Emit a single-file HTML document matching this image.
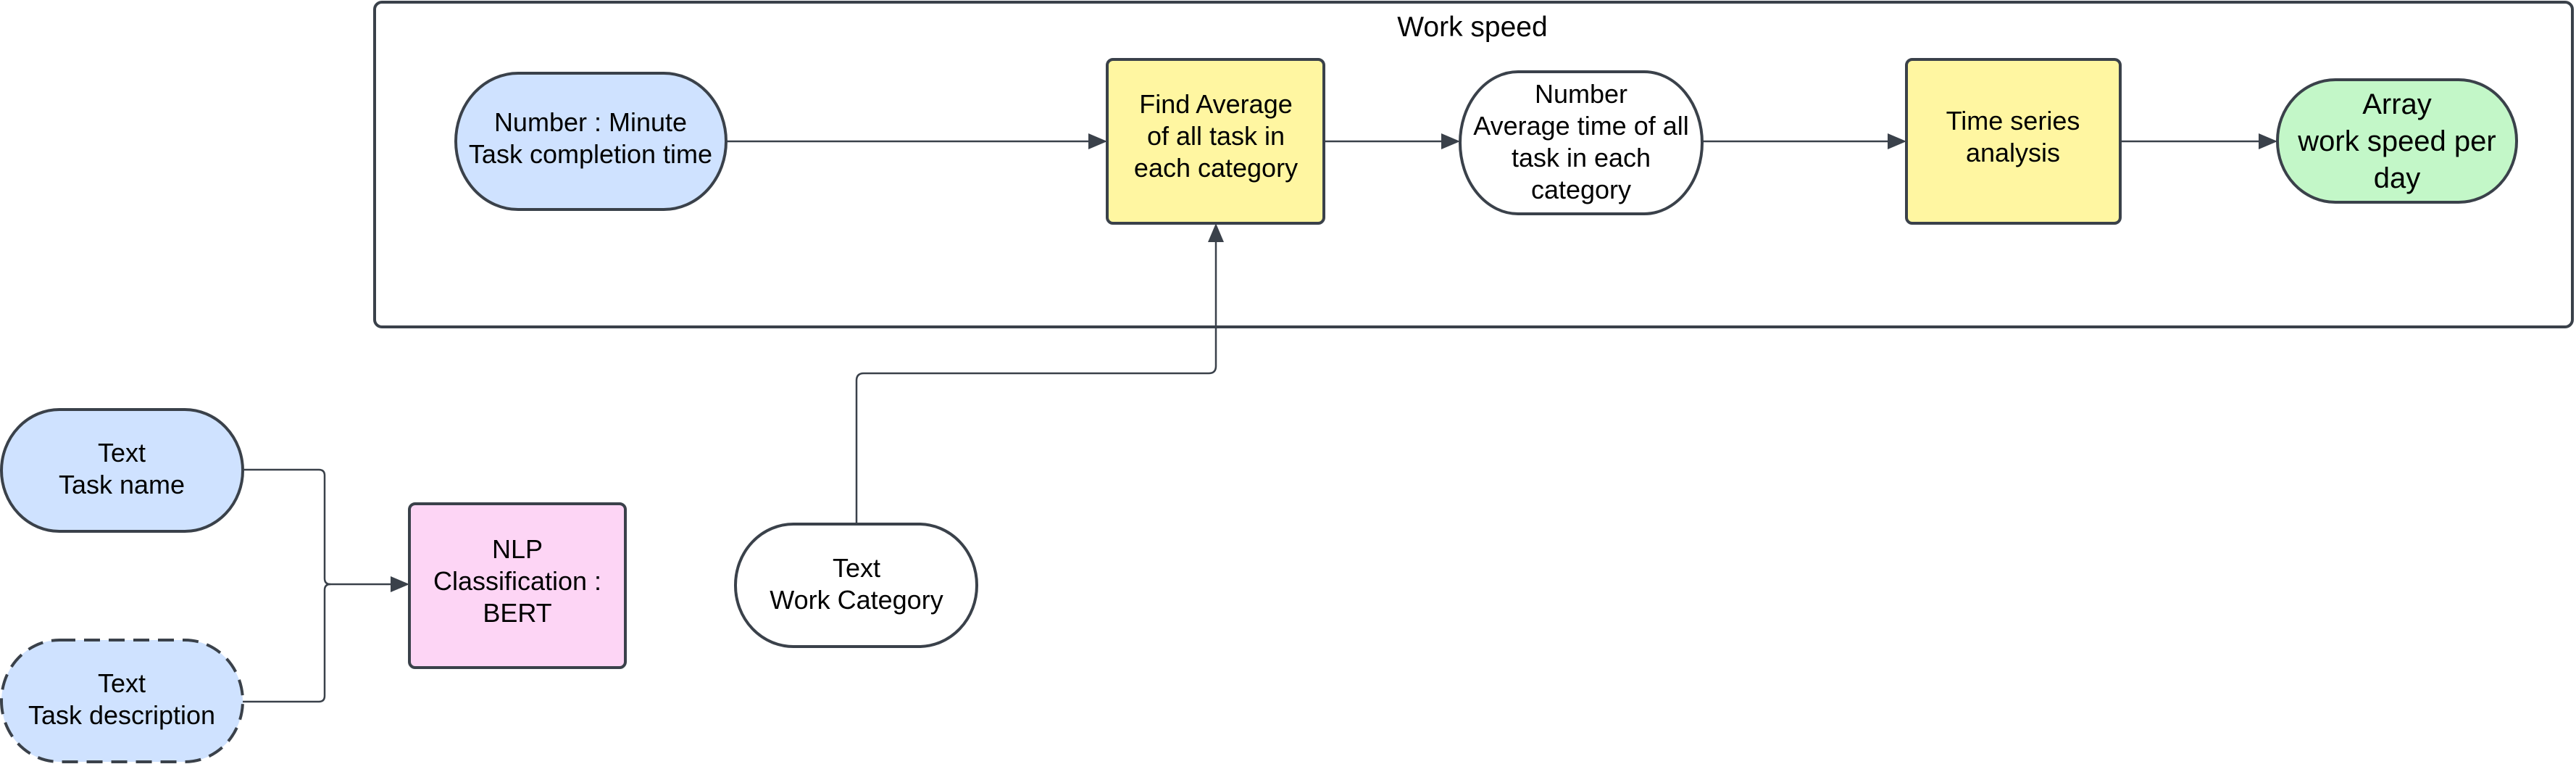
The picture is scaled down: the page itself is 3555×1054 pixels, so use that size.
<!DOCTYPE html>
<html><head><meta charset="utf-8"><style>
html,body{margin:0;padding:0;background:#fff;}
svg{display:block;}
text{font-family:"Liberation Sans",Arial,sans-serif;fill:#000;}
</style></head><body>
<svg width="3555" height="1054" viewBox="0 0 3555 1054" xmlns="http://www.w3.org/2000/svg">
<g stroke="#3a414a" fill="none">
<rect x="517" y="3" width="3033" height="448" rx="10" stroke-width="4"/>
</g>
<text x="2032" y="50" font-size="39" text-anchor="middle">Work speed</text>

<g stroke="#3a414a" stroke-width="2.5" fill="none">
<line x1="1002" y1="195" x2="1505" y2="195"/>
<line x1="1827" y1="195" x2="1993" y2="195"/>
<line x1="2349" y1="195" x2="2608" y2="195"/>
<line x1="2926" y1="195" x2="3120" y2="195"/>
<path d="M1182 723 V525 Q1182 515 1192 515 H1668 Q1678 515 1678 505 V332"/>
<path d="M335 648 H440 Q448 648 448 656 V798 Q448 806 456 806 H542"/>
<path d="M335 968 H440 Q448 968 448 960 V814 Q448 806 456 806"/>
</g>
<g fill="#3a414a">
<polygon points="1528,195 1502,184 1502,206"/>
<polygon points="2015,195 1989,184 1989,206"/>
<polygon points="2631,195 2605,184 2605,206"/>
<polygon points="3143,195 3117,184 3117,206"/>
<polygon points="1678,308 1667,334 1689,334"/>
<polygon points="565,806 539,795 539,817"/>
</g>

<g stroke="#3a414a" stroke-width="4">
<rect x="629" y="101" width="373" height="188" rx="86" ry="94" fill="#cfe2ff"/>
<rect x="1528" y="82" width="299" height="226" rx="8" fill="#fff6a1"/>
<rect x="2015" y="99" width="334" height="196" rx="80" ry="98" fill="#ffffff"/>
<rect x="2631" y="82" width="295" height="226" rx="8" fill="#fff6a1"/>
<rect x="3143" y="110" width="330" height="169" rx="80" ry="84" fill="#c3f7c8"/>
<rect x="2" y="565" width="333" height="168" rx="80" ry="84" fill="#cfe2ff"/>
<rect x="2" y="883" width="333" height="168" rx="80" ry="84" fill="#cfe2ff" stroke-dasharray="22,12"/>
<rect x="565" y="695" width="298" height="226" rx="8" fill="#fdd5f5"/>
<rect x="1015" y="723" width="333" height="169" rx="80" ry="84" fill="#ffffff"/>
</g>

<g font-size="36" text-anchor="middle">
<text x="815" y="181">Number : Minute</text>
<text x="815" y="225">Task completion time</text>
<text x="1678" y="156">Find Average</text>
<text x="1678" y="200">of all task in</text>
<text x="1678" y="244">each category</text>
<text x="2182" y="142">Number</text>
<text x="2182" y="186">Average time of all</text>
<text x="2182" y="230">task in each</text>
<text x="2182" y="274">category</text>
<text x="2778" y="179">Time series</text>
<text x="2778" y="223">analysis</text>
<text x="168" y="637">Text</text>
<text x="168" y="681">Task name</text>
<text x="168" y="955">Text</text>
<text x="168" y="999">Task description</text>
<text x="714" y="770">NLP</text>
<text x="714" y="814">Classification :</text>
<text x="714" y="858">BERT</text>
<text x="1182" y="796">Text</text>
<text x="1182" y="840">Work Category</text>
</g>
<g font-size="40" text-anchor="middle">
<text x="3308" y="157">Array</text>
<text x="3308" y="208">work speed per</text>
<text x="3308" y="259">day</text>
</g>
</svg>
</body></html>
